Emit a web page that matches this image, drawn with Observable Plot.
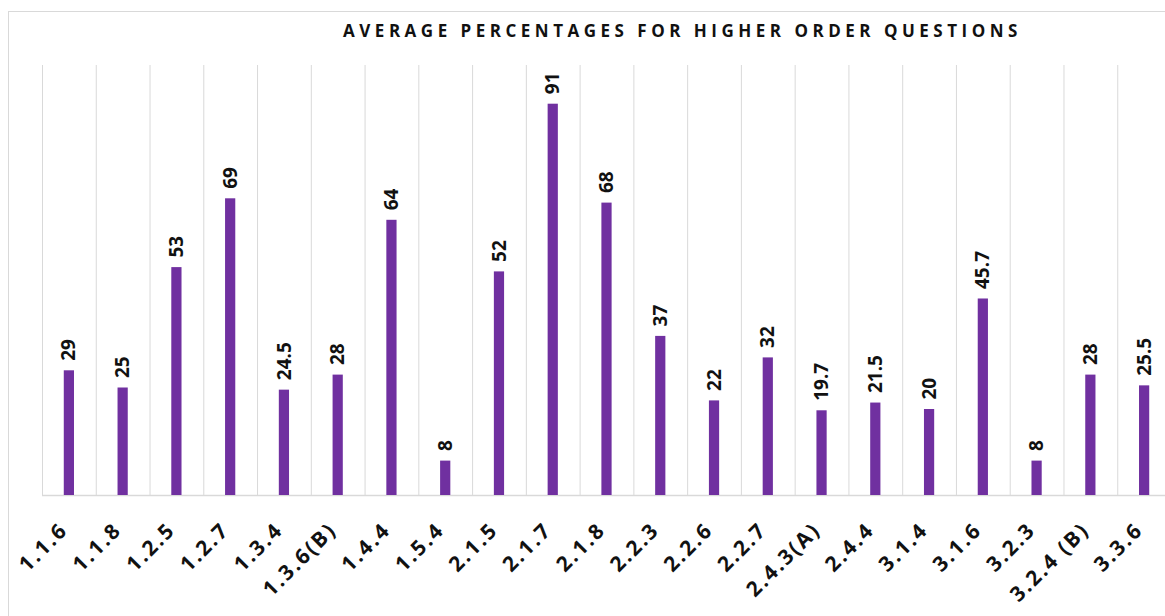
<!DOCTYPE html>
<html>
<head>
<meta charset="utf-8">
<script src="https://cdn.jsdelivr.net/npm/d3@7"></script>
<script src="https://cdn.jsdelivr.net/npm/@observablehq/plot@0.6"></script>
<style>
  html, body { margin: 0; padding: 0; background: #fff; overflow: hidden; width: 1165px; height: 616px; }
  #frame { position: absolute; left: 8px; top: 11px; width: 1300px; height: 800px; border: 1px solid #d9d9d9; box-sizing: border-box; }
  #title { position: relative; height: 50px; padding-top: 12px; line-height: 38px; text-align: center; padding-left: 200px; box-sizing: border-box;
           font-family: "Open Sans", sans-serif; font-weight: 700; font-size: 17px; letter-spacing: 4.5px; color: #111; white-space: nowrap; }
  #chart { position: relative; }
  #chart text { font-family: "Open Sans", sans-serif; }
</style>
</head>
<body>
<div id="frame"></div>
<div id="title">AVERAGE PERCENTAGES FOR HIGHER ORDER QUESTIONS</div>
<div id="chart"></div>
<script>
const categories = ["1.1.6","1.1.8","1.2.5","1.2.7","1.3.4","1.3.6(B)","1.4.4","1.5.4","2.1.5","2.1.7","2.1.8","2.2.3","2.2.6","2.2.7","2.4.3(A)","2.4.4","3.1.4","3.1.6","3.2.3","3.2.4 (B)","3.3.6"];
const values = [29,25,53,69,24.5,28,64,8,52,91,68,37,22,32,19.7,21.5,20,45.7,8,28,25.5];

const data = categories.map((c, i) => ({cat: c, value: values[i]}));

const left = 42, right = 1171;
const step = (right - left) / categories.length;

const chart = Plot.plot({
  width: 1165,
  height: 566,
  marginTop: 15,
  marginBottom: 121,
  marginLeft: left,
  marginRight: 0,
  x: {domain: categories, range: [left, right], round: false, paddingInner: 0.81, paddingOuter: 0.405, label: null},
  y: {domain: [0, 100], axis: null},
  style: {fontFamily: "Open Sans, sans-serif", background: "transparent", overflow: "visible"},
  marks: [
    Plot.ruleX(categories, {x: d => d, dx: -step / 2, y1: 0, y2: 100, stroke: "#d9d9d9", strokeWidth: 1}),
    Plot.ruleY([0], {stroke: "#d9d9d9", strokeWidth: 1.5}),
    Plot.barY(data, {x: "cat", y: "value", fill: "#7030A0"}),
    Plot.text(data, {x: "cat", y: "value", text: d => String(d.value), rotate: -90, textAnchor: "start", lineAnchor: "middle",
                     dy: -10, fontSize: 19, fontWeight: "bold", fill: "#111", style: "letter-spacing:2px"}),
    Plot.axisX({tickSize: 0, tickPadding: 31, dx: -5, tickRotate: -45, fontSize: 21, fontWeight: "bold", fill: "#111", label: null})
  ]
});
chart.querySelectorAll("g[aria-label='x-axis tick label'] text").forEach(t => t.style.letterSpacing = "2.2px");
document.getElementById("chart").appendChild(chart);
</script>
</body>
</html>
